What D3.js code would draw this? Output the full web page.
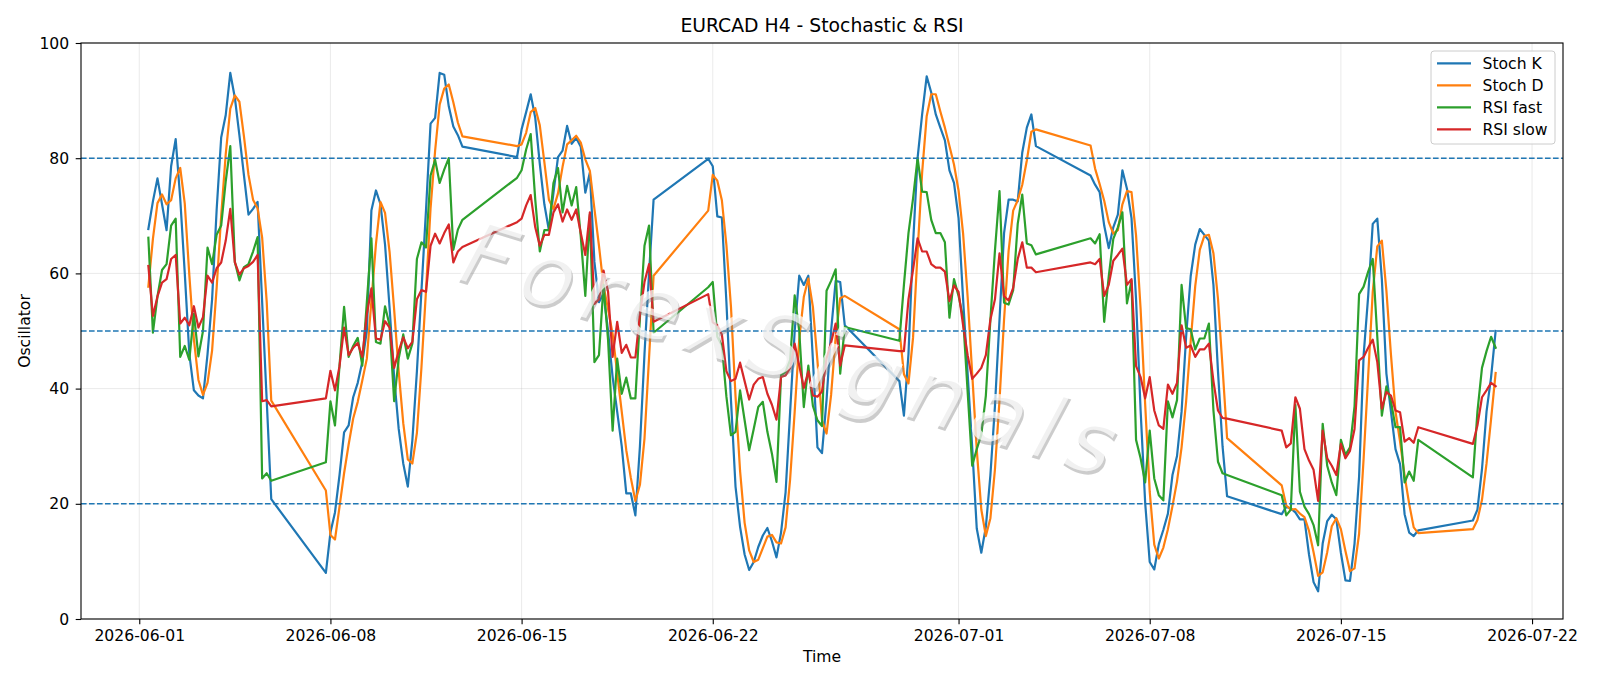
<!DOCTYPE html>
<html><head><meta charset="utf-8">
<script src="https://cdn.jsdelivr.net/npm/d3@7/dist/d3.min.js"></script>
<style>
body{margin:0;background:#fff}
svg{display:block;font-family:"DejaVu Sans",sans-serif}
</style>
</head><body>
<svg id="chart" width="1600" height="686"></svg>
<script>
// H4 trading sessions: [first bar (UTC), number of 4h bars]
const sessions = [
  ["2026-06-01T08:00:00Z", 28],
  ["2026-06-07T20:00:00Z", 31],
  ["2026-06-14T20:00:00Z", 31],
  ["2026-06-21T20:00:00Z", 31],
  ["2026-06-28T20:00:00Z", 31],
  ["2026-07-05T20:00:00Z", 31],
  ["2026-07-12T20:00:00Z", 31],
  ["2026-07-19T20:00:00Z", 6]
];
const stochK = [
  67.7,72.5,76.5,72,67.5,78.6,83.3,73,60,46,39.7,38.8,38.3,46,55.5,71,83.6,87.5,94.8,90.5,84,77,70.2,71.2,72.4,55,38,20.8,
  8,15,18.5,25,32.4,33.6,38.5,41,44.6,50,70.9,74.4,72,65,54,42,33,27,23,31,43,57,71,86,87,94.8,94.5,89,85.5,84,82,
  80.2,85,88,91.1,87,79,72,67.5,74,80.2,81.3,85.6,82.5,83.5,82,74,77.5,62,55,56.5,50,42,36,30,21.8,21.8,18,30,46,60,72.8,
  79.9,78.6,69.9,69.7,55,38,23,16,11.2,8.5,9.9,12.5,14.5,15.8,13.5,10.7,15,22,36,50,59.6,58,59.6,45,29.8,28.8,38,50,58.7,58.5,51,
  41.3,35.3,46,65,80,87.6,94.2,91.4,87.6,85.3,83.1,77.9,75.7,69.6,55.5,42.6,29.8,15.7,11.5,16,25,37,52,67,72.8,72.8,72.5,81,85.3,87.6,82.1,
  77,75.4,74.1,68.3,64.4,68,70.2,77.9,74.7,69.6,55.5,36.2,20.2,9.9,8.6,13,15.5,18.3,25,28.3,36,49,59.5,65,67.7,66.7,65.7,58,43,30,21.3,
  18.2,19.5,19.2,18.5,17.3,17.3,11.2,6.4,4.8,13.1,17,18.1,17.3,11.5,6.7,6.6,13.1,24.7,45.8,56.1,68.6,69.5,59,42.6,36,29.5,26.9,18.2,15,14.4,15.4,
  17.1,19,26,36,42,50
];
const stochD = [
  57.7,66,72.2,73.7,72,72.7,76.5,78.3,72.1,59.7,48.6,41.5,38.9,41,46.6,57.5,70,80.7,88.6,90.9,89.8,83.8,77.1,72.8,71.3,66.2,55.1,37.9,
  22.3,14.6,13.8,19.5,25.3,30.3,34.8,37.7,41.4,45.2,55.2,65.1,72.4,70.5,63.7,53.7,43,34,27.7,27,32.3,43.7,57,71.3,81.3,89.3,92.1,92.8,89.7,86.2,83.8,
  82.1,82.4,84.4,88,88.7,85.7,79.3,72.8,71.2,73.9,78.5,82.4,83.1,83.9,82.7,79.8,77.8,71.2,64.8,57.8,53.8,49.5,42.7,36,29.3,24.5,20.5,23.3,31.3,45.3,59.6,
  70.9,77.1,76.1,72.7,64.9,54.2,38.7,25.7,16.7,11.9,9.9,10.3,12.3,14.3,14.6,13.3,13.1,15.9,24.3,36,48.5,55.9,59.1,54.2,44.8,34.5,32.2,38.9,48.9,55.7,56.1,
  50.3,42.5,40.9,48.8,63.7,77.5,87.3,91.1,91.1,88.1,85.3,82.1,78.9,74.4,66.9,55.9,42.6,29.4,19,14.4,17.5,26,38,52,63.9,70.9,72.7,75.4,79.6,84.6,85,
  82.2,78.2,75.5,72.6,68.9,66.9,67.5,72,74.3,74.1,66.6,53.8,37.3,22.1,12.9,10.5,12.4,15.6,19.6,23.9,29.8,37.8,48.2,57.8,64.1,66.5,66.7,63.5,55.6,43.7,31.4,
  23.2,19.7,19,19.1,18.3,17.7,15.3,11.6,7.5,8.1,11.6,16.1,17.5,15.6,11.8,8.3,8.8,14.8,27.9,42.2,56.8,64.7,65.7,57,45.9,36,30.8,24.9,20,15.9,14.9,
  15.6,17.2,20.7,27,34.7,42.7
];
const rsiFast = [
  66.2,49.7,56,60.6,61.6,68.3,69.5,45.5,47.4,45,53,45.6,50,64.5,61.6,66.7,68.3,76,82.1,62,58.8,61.1,61.6,63.8,66.3,24.4,25.3,24,
  27.2,37.8,33.6,44,54.2,45.5,47.4,48.8,44,55,66.1,48.1,47.8,54.3,51,37.8,45.2,49.4,45.2,47.8,62.5,65.4,64.5,77,79.7,75.7,78,80,64.1,67.6,69.3,
  76.6,77.9,81.5,84.2,72.8,63.8,67.5,67.5,75.7,78.3,70.6,75.2,71.8,75,66.4,56.1,70.2,44.6,45.8,58,48.4,32.7,45.2,39.1,41.9,38.3,38.3,52.3,64.8,68.3,49.7,
  57.6,58.5,49,47.5,38.6,31.9,32.5,39.7,34.5,29.3,33,36.8,37.7,32.5,28.7,23.8,42.3,42.9,45,56.2,50,36.8,44,37,34.5,33.5,57,58.7,60.7,42.6,50.7,
  48.3,58,67,73,80,74.2,74.1,69.3,67,67,65.4,52.3,59,56.1,52.3,39.4,26.6,29.5,32,38.8,52,64,74.3,54.9,54.6,57.1,68.6,73.7,65.2,64.9,63.3,
  66.1,65.2,66.8,51.6,59.5,66,68,70.6,54.8,58.7,31.1,27.9,23.7,32.7,24.4,21.5,20.6,37.8,35,38,58,50.5,50.3,46.8,48.7,48.7,51.3,36.2,27.3,25.3,25,
  21.5,18,19,37.2,22.1,19.5,18.2,16.3,12.8,33.9,26.6,23.7,21.5,31.1,28.5,29.8,36.9,56.4,57.7,60.3,62.5,49,35.3,40.4,37.8,33.3,33.3,23.7,25.6,24,31.1,
  24.6,36,43.6,46.5,49,47.1
];
const rsiSlow = [
  61.3,52.6,56,58.4,59,62.5,63.2,51.3,52.3,51,54.3,50.6,52.4,59.6,58.4,60.9,61.9,65.7,71.2,61.9,59.8,60.9,61.3,62,63.2,37.8,38,36.9,
  38.3,43.1,39.7,43.9,50.6,45.8,47.1,47.9,45.5,52.9,57.4,48.7,48.5,51.7,50.6,43.6,46.5,48.9,47,48.1,55.5,57.1,56.8,64.8,66.9,65.2,67,68.5,61.9,63.8,64.6,
  68.9,69.5,71.8,73.6,68,64.8,66.7,66.7,70.6,72,69,71.1,69.3,71.1,67,63.2,70.6,54.7,55.5,60.5,56.8,45.5,51.6,46.2,47.6,45.4,45.4,52.9,58.5,61.6,51.6,
  56.4,51.5,51,49.4,43,41.3,41.7,44.5,41.3,38.1,40.7,41.7,42,39.1,37.2,34.6,42,42.3,43.6,47.8,44,40.1,43,38.8,38.6,39.5,45.2,48,51.3,44,47.5,
  46.5,46.5,55.5,60.6,66.1,63.8,63.8,61.6,61,61,60.3,55.2,57.9,56.8,51,45.8,41.7,42.6,43.6,45.8,52,55.5,63.5,56,55.3,57.5,62.5,65.4,61,61,60.2,
  61.9,61.6,62.5,56.1,58,62.2,63.2,64.3,58,59,43.9,42,38.3,42,36.2,33.6,33,40.7,39.1,41,51,47.1,47.5,45.5,46.8,46.8,47.8,41.3,36.2,34.9,34.8,
  32.7,29.8,30.5,38.5,36.5,29.5,27.5,25.9,20.5,32.7,27.9,26.6,25,30.4,27.9,29.2,33,44.9,45.5,47.1,48.5,44.6,36.5,39.4,38.8,36.2,35.9,30.8,31.4,30.6,33.3,
  30.4,33.6,38.5,39.7,41,40.4
];
const seriesNames = ["Stoch K", "Stoch D", "RSI fast", "RSI slow"];
const seriesColors = ["#1f77b4", "#ff7f0e", "#2ca02c", "#d62728"];
const levels = [20, 50, 80];
const yTicks = [0, 20, 40, 60, 80, 100];
const xTickLabels = ["2026-06-01","2026-06-08","2026-06-15","2026-06-22","2026-07-01","2026-07-08","2026-07-15","2026-07-22"];
const titleText = "EURCAD H4 - Stochastic & RSI";
const watermarkText = "ForexSignals";

// ---- build time index ----
const times = [];
sessions.forEach(([s, n]) => {
  const t0 = Date.parse(s);
  for (let k = 0; k < n; k++) times.push(new Date(t0 + k * 4 * 3600e3));
});

const W = 1600, H = 686;
const m = {l: 81, r: 37, t: 43, b: 67};
const svg = d3.select("#chart");
svg.append("rect").attr("width", W).attr("height", H).attr("fill", "#fff");

const tFirst = +times[0], tLast = +times[times.length - 1], span = tLast - tFirst;
const x = d3.scaleUtc().domain([new Date(tFirst - 0.05 * span), new Date(tLast + 0.05 * span)]).range([m.l, W - m.r]);
const y = d3.scaleLinear().domain([0, 100]).range([H - m.b, m.t]);
const xTicks = xTickLabels.map(s => new Date(s + "T00:00:00Z"));

// grid
const grid = svg.append("g");
grid.selectAll("line.gx").data(xTicks).join("line")
  .attr("x1", d => x(d)).attr("x2", d => x(d)).attr("y1", m.t).attr("y2", H - m.b)
  .attr("stroke", "#b0b0b0").attr("stroke-opacity", 0.3).attr("stroke-width", 0.9);
grid.selectAll("line.gy").data(yTicks).join("line")
  .attr("x1", m.l).attr("x2", W - m.r).attr("y1", d => y(d)).attr("y2", d => y(d))
  .attr("stroke", "#b0b0b0").attr("stroke-opacity", 0.3).attr("stroke-width", 0.9);

// clip
svg.append("clipPath").attr("id", "clip").append("rect")
  .attr("x", m.l).attr("y", m.t).attr("width", W - m.l - m.r).attr("height", H - m.t - m.b);

const plot = svg.append("g").attr("clip-path", "url(#clip)");
const allSeries = [stochK, stochD, rsiFast, rsiSlow];
const line = d3.line().x((d, i) => x(times[i])).y(d => y(d));
allSeries.forEach((s, k) => {
  plot.append("path").datum(s).attr("d", line)
    .attr("fill", "none").attr("stroke", seriesColors[k]).attr("stroke-width", 2.2)
    .attr("stroke-linejoin", "round").attr("stroke-linecap", "square");
});

// level lines
plot.selectAll("line.lvl").data(levels).join("line")
  .attr("x1", m.l).attr("x2", W - m.r).attr("y1", d => y(d)).attr("y2", d => y(d))
  .attr("stroke", "#1f77b4").attr("stroke-width", 1.4).attr("stroke-dasharray", "5.6,2.4");

// watermark
const wmFont = 88, wmSpacing = 10.5;
const wm = svg.append("g").attr("transform", "translate(792,356) rotate(17)");
wm.append("text").text(watermarkText).attr("x", 2.5).attr("y", 3)
  .attr("text-anchor", "middle").attr("dominant-baseline", "middle")
  .attr("font-size", wmFont).attr("font-style", "italic").attr("letter-spacing", wmSpacing)
  .attr("fill", "#808080").attr("fill-opacity", 0.4);
wm.append("text").text(watermarkText)
  .attr("text-anchor", "middle").attr("dominant-baseline", "middle")
  .attr("font-size", wmFont).attr("font-style", "italic").attr("letter-spacing", wmSpacing)
  .attr("fill", "#ffffff").attr("fill-opacity", 0.72);

// axes
const fs = 15.6;
const gx = svg.append("g").attr("transform", `translate(0,${H - m.b})`)
  .call(d3.axisBottom(x).tickValues(xTicks).tickFormat(d3.utcFormat("%Y-%m-%d")).tickSize(5.3).tickPadding(5.2).tickSizeOuter(0));
const gy = svg.append("g").attr("transform", `translate(${m.l},0)`)
  .call(d3.axisLeft(y).tickValues(yTicks).tickFormat(d3.format("d")).tickSize(5.3).tickPadding(6.5).tickSizeOuter(0));
[gx, gy].forEach(g => {
  g.select(".domain").remove();
  g.selectAll("text").attr("font-size", fs).attr("fill", "#000").attr("font-family", "DejaVu Sans");
  g.selectAll("line").attr("stroke", "#000").attr("stroke-width", 1.1);
});
// frame
svg.append("rect").attr("x", m.l).attr("y", m.t).attr("width", W - m.l - m.r).attr("height", H - m.t - m.b)
  .attr("fill", "none").attr("stroke", "#000").attr("stroke-width", 1.1);

// labels
svg.append("text").text(titleText).attr("x", (m.l + W - m.r) / 2).attr("y", 32)
  .attr("text-anchor", "middle").attr("font-size", 18.8).attr("fill", "#000");
svg.append("text").text("Time").attr("x", (m.l + W - m.r) / 2).attr("y", 662)
  .attr("text-anchor", "middle").attr("font-size", fs).attr("fill", "#000");
svg.append("text").text("Oscillator").attr("transform", `translate(30,${(m.t + H - m.b) / 2}) rotate(-90)`)
  .attr("text-anchor", "middle").attr("font-size", fs).attr("fill", "#000");

// legend
const lg = svg.append("g");
lg.append("rect").attr("x", 1431).attr("y", 51).attr("width", 124).attr("height", 93).attr("rx", 3)
  .attr("fill", "#fff").attr("fill-opacity", 0.8).attr("stroke", "#cccccc").attr("stroke-width", 1);
seriesNames.forEach((nm, k) => {
  const yy = 63.4 + k * 22;
  lg.append("line").attr("x1", 1437).attr("x2", 1471).attr("y1", yy).attr("y2", yy)
    .attr("stroke", seriesColors[k]).attr("stroke-width", 2.2);
  lg.append("text").text(nm).attr("x", 1482.5).attr("y", yy + 5.6).attr("font-size", fs).attr("fill", "#000");
});
</script>
</body></html>
